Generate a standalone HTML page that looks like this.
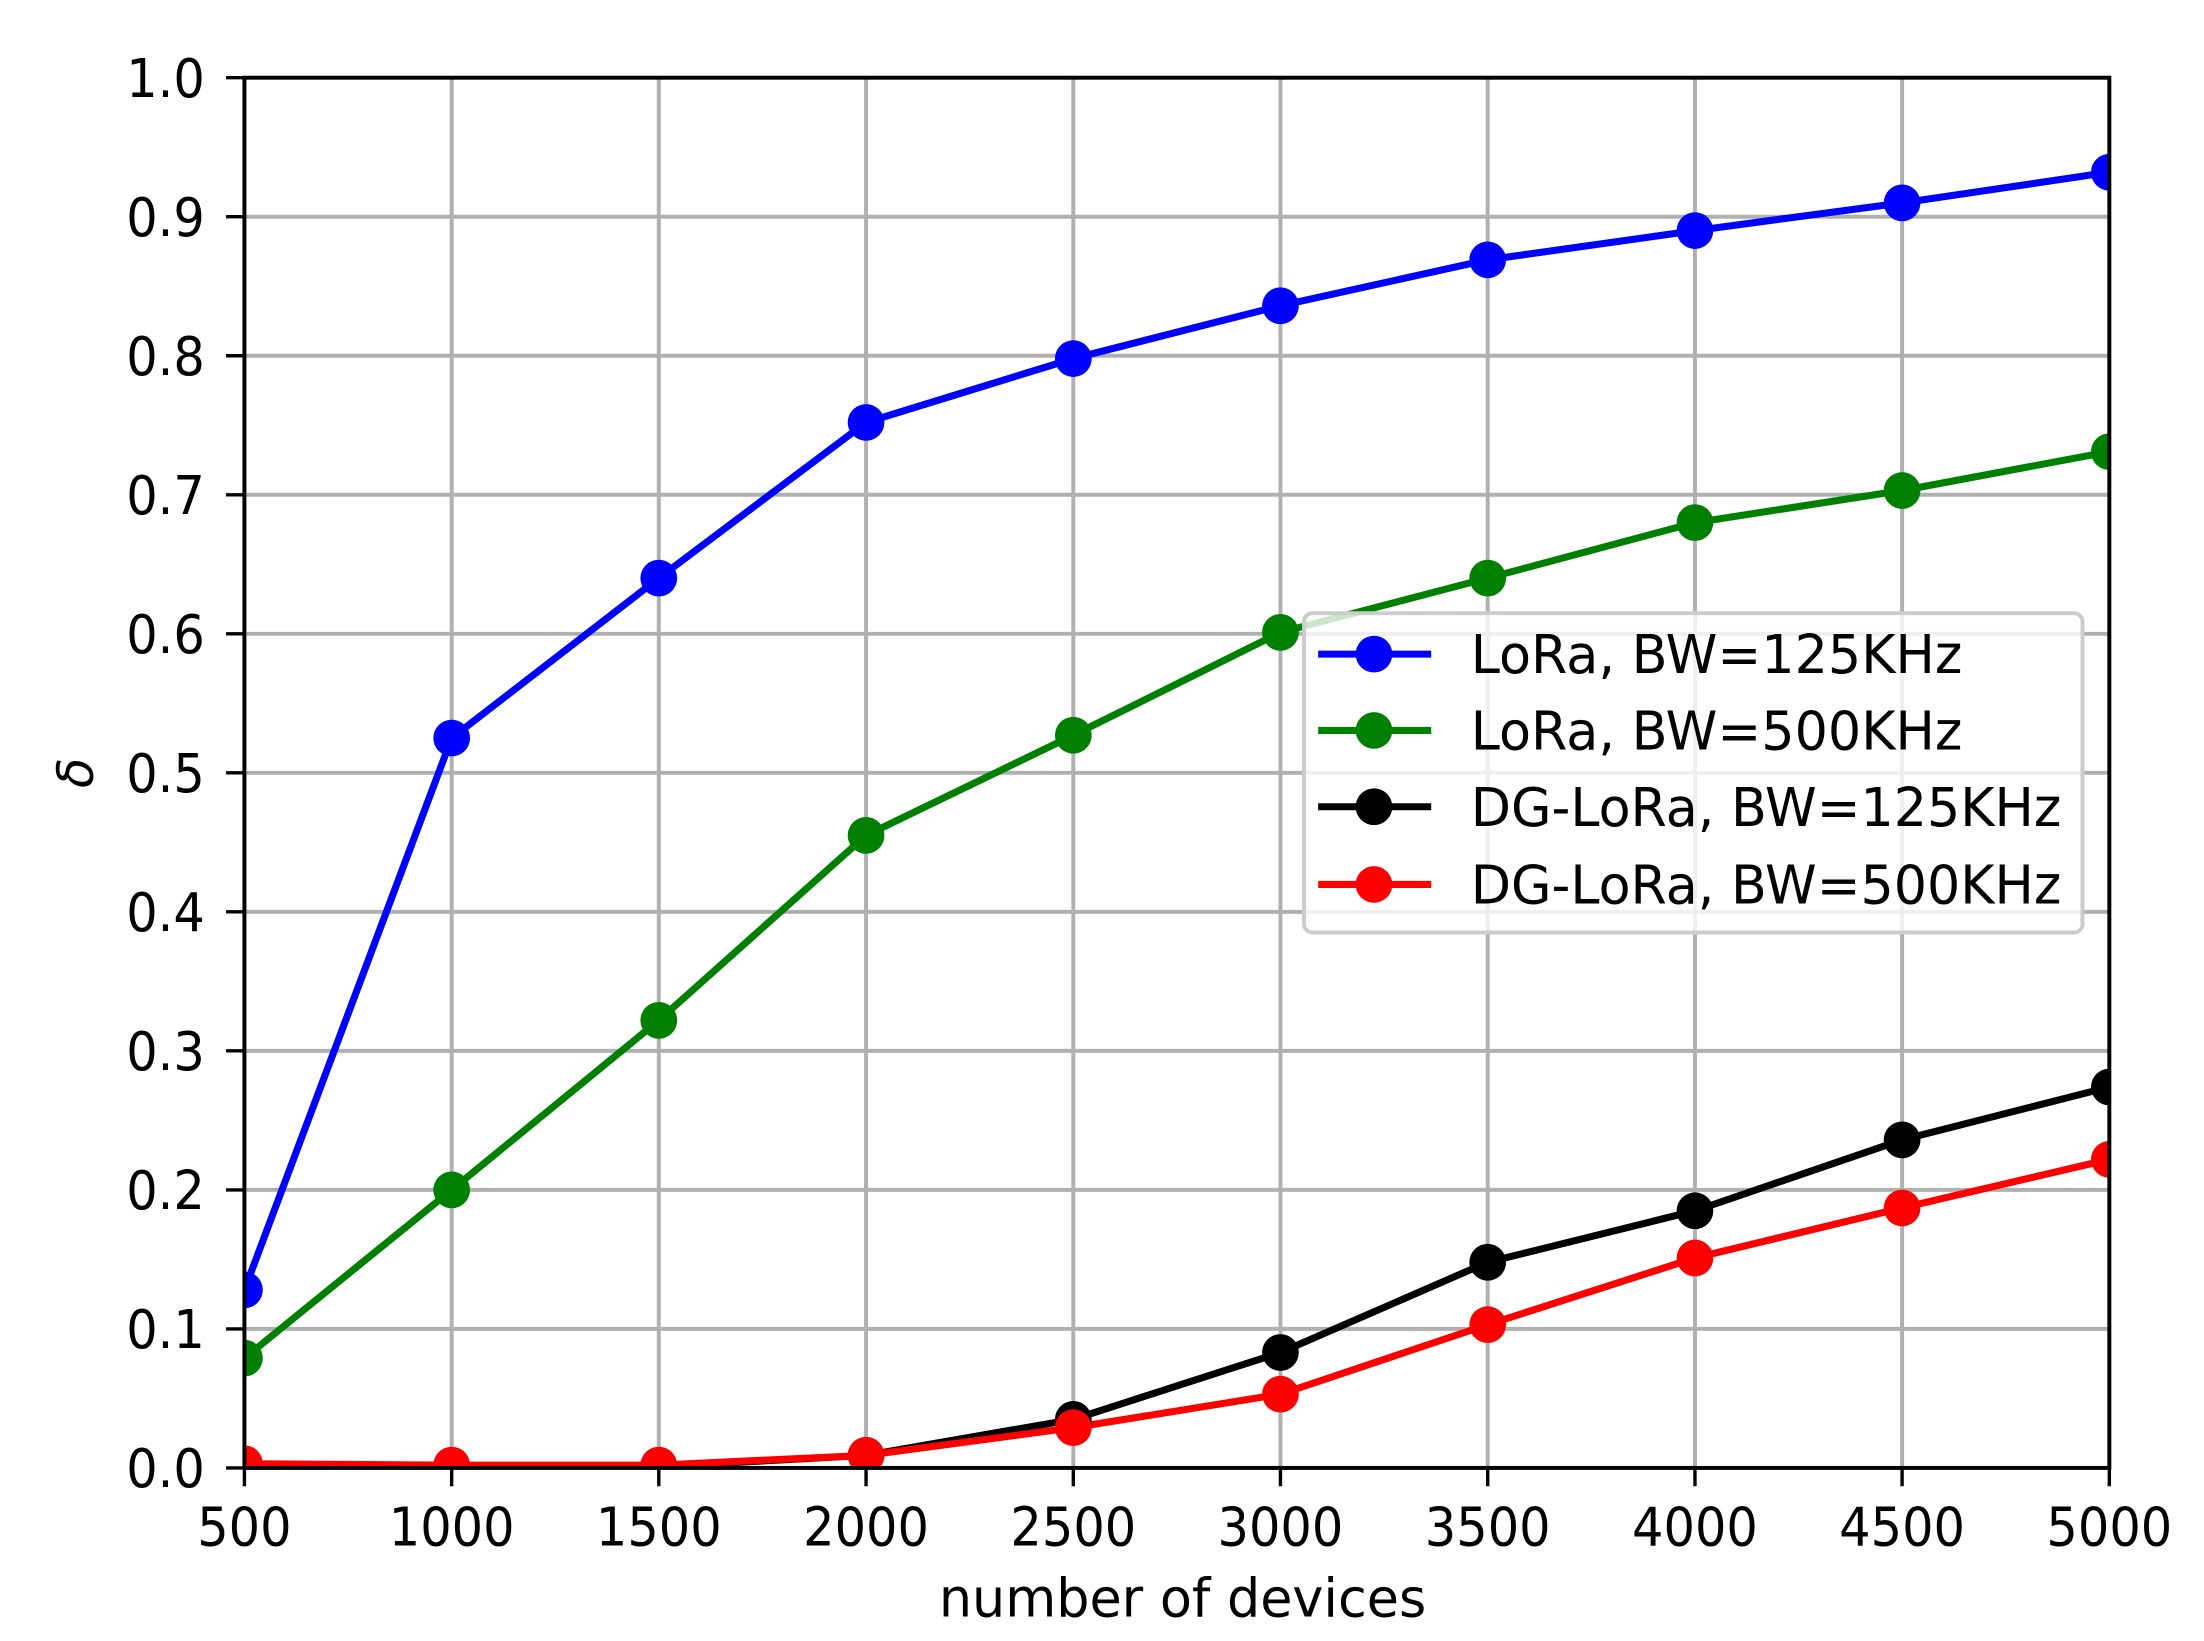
<!DOCTYPE html>
<html><head><meta charset="utf-8"><style>html,body{margin:0;padding:0;background:#fff}svg{display:block}</style></head>
<body>
<svg width="2204" height="1641" viewBox="0 0 1560 1161.5" preserveAspectRatio="none" xmlns="http://www.w3.org/2000/svg" font-family="DejaVu Sans, Liberation Sans, sans-serif">
<defs><clipPath id="c"><rect x="173" y="55" width="1320" height="984"/></clipPath></defs>
<rect width="1560" height="1162" fill="#fff"/>
<g stroke="#b0b0b0" stroke-width="2.8">
<path d="M319.7 55V1039M466.3 55V1039M613 55V1039M759.7 55V1039M906.3 55V1039M1053 55V1039M1199.7 55V1039M1346.3 55V1039"/>
<path d="M173 940.6H1493M173 842.2H1493M173 743.8H1493M173 645.4H1493M173 547H1493M173 448.6H1493M173 350.2H1493M173 251.8H1493M173 153.4H1493"/>
</g>
<g clip-path="url(#c)" fill="none" stroke-width="5" stroke-linejoin="round">
<polyline stroke="#0000ff" points="173,913 319.7,522.4 466.3,409.2 613,299 759.7,253.8 906.3,216.4 1053,183.9 1199.7,163.2 1346.3,143.6 1493,121.9"/>
<polyline stroke="#008000" points="173,961.3 319.7,842.2 466.3,722.2 613,591.3 759.7,520.4 906.3,447.6 1053,409.2 1199.7,369.9 1346.3,347.2 1493,319.7"/>
<polyline stroke="#000" points="173,1037 319.7,1038 466.3,1038 613,1030.1 759.7,1004.6 906.3,957.3 1053,893.4 1199.7,857 1346.3,806.8 1493,769.4"/>
<polyline stroke="#ff0000" points="173,1036 319.7,1037 466.3,1037 613,1030.1 759.7,1010.5 906.3,986.8 1053,937.6 1199.7,890.4 1346.3,855 1493,820.6"/>
</g>
<g clip-path="url(#c)">
<g fill="#0000ff"><circle cx="173" cy="913" r="13"/><circle cx="319.7" cy="522.4" r="13"/><circle cx="466.3" cy="409.2" r="13"/><circle cx="613" cy="299" r="13"/><circle cx="759.7" cy="253.8" r="13"/><circle cx="906.3" cy="216.4" r="13"/><circle cx="1053" cy="183.9" r="13"/><circle cx="1199.7" cy="163.2" r="13"/><circle cx="1346.3" cy="143.6" r="13"/><circle cx="1493" cy="121.9" r="13"/></g>
<g fill="#008000"><circle cx="173" cy="961.3" r="13"/><circle cx="319.7" cy="842.2" r="13"/><circle cx="466.3" cy="722.2" r="13"/><circle cx="613" cy="591.3" r="13"/><circle cx="759.7" cy="520.4" r="13"/><circle cx="906.3" cy="447.6" r="13"/><circle cx="1053" cy="409.2" r="13"/><circle cx="1199.7" cy="369.9" r="13"/><circle cx="1346.3" cy="347.2" r="13"/><circle cx="1493" cy="319.7" r="13"/></g>
<g fill="#000"><circle cx="173" cy="1037" r="13"/><circle cx="319.7" cy="1038" r="13"/><circle cx="466.3" cy="1038" r="13"/><circle cx="613" cy="1030.1" r="13"/><circle cx="759.7" cy="1004.6" r="13"/><circle cx="906.3" cy="957.3" r="13"/><circle cx="1053" cy="893.4" r="13"/><circle cx="1199.7" cy="857" r="13"/><circle cx="1346.3" cy="806.8" r="13"/><circle cx="1493" cy="769.4" r="13"/></g>
<g fill="#ff0000"><circle cx="173" cy="1036" r="13"/><circle cx="319.7" cy="1037" r="13"/><circle cx="466.3" cy="1037" r="13"/><circle cx="613" cy="1030.1" r="13"/><circle cx="759.7" cy="1010.5" r="13"/><circle cx="906.3" cy="986.8" r="13"/><circle cx="1053" cy="937.6" r="13"/><circle cx="1199.7" cy="890.4" r="13"/><circle cx="1346.3" cy="855" r="13"/><circle cx="1493" cy="820.6" r="13"/></g>
</g>
<rect x="173" y="55" width="1320" height="984" fill="none" stroke="#000" stroke-width="2.8"/>
<g stroke="#000" stroke-width="2.4">
<path d="M173 1039v13M319.7 1039v13M466.3 1039v13M613 1039v13M759.7 1039v13M906.3 1039v13M1053 1039v13M1199.7 1039v13M1346.3 1039v13M1493 1039v13"/>
<path d="M173 1039h-13M173 940.6h-13M173 842.2h-13M173 743.8h-13M173 645.4h-13M173 547h-13M173 448.6h-13M173 350.2h-13M173 251.8h-13M173 153.4h-13M173 55h-13"/>
</g>
<g font-size="35" fill="#000" text-anchor="middle">
<text transform="translate(173 1094) scale(1 1.09)">500</text>
<text transform="translate(319.7 1094) scale(1 1.09)">1000</text>
<text transform="translate(466.3 1094) scale(1 1.09)">1500</text>
<text transform="translate(613 1094) scale(1 1.09)">2000</text>
<text transform="translate(759.7 1094) scale(1 1.09)">2500</text>
<text transform="translate(906.3 1094) scale(1 1.09)">3000</text>
<text transform="translate(1053 1094) scale(1 1.09)">3500</text>
<text transform="translate(1199.7 1094) scale(1 1.09)">4000</text>
<text transform="translate(1346.3 1094) scale(1 1.09)">4500</text>
<text transform="translate(1493 1094) scale(1 1.09)">5000</text>
<text transform="translate(837 1144) scale(1 1.09)" textLength="345" lengthAdjust="spacingAndGlyphs">number of devices</text>
</g>
<g font-size="35" fill="#000" text-anchor="end">
<text transform="translate(145 1052.5) scale(1 1.09)">0.0</text>
<text transform="translate(145 954.1) scale(1 1.09)">0.1</text>
<text transform="translate(145 855.7) scale(1 1.09)">0.2</text>
<text transform="translate(145 757.3) scale(1 1.09)">0.3</text>
<text transform="translate(145 658.9) scale(1 1.09)">0.4</text>
<text transform="translate(145 560.5) scale(1 1.09)">0.5</text>
<text transform="translate(145 462.1) scale(1 1.09)">0.6</text>
<text transform="translate(145 363.7) scale(1 1.09)">0.7</text>
<text transform="translate(145 265.3) scale(1 1.09)">0.8</text>
<text transform="translate(145 166.9) scale(1 1.09)">0.9</text>
<text transform="translate(145 68.5) scale(1 1.09)">1.0</text>
</g>
<text transform="translate(66,547) rotate(-90)" font-size="35" font-style="italic" text-anchor="middle">δ</text>
<rect x="923" y="434" width="551" height="226" rx="6" fill="#fff" fill-opacity="0.8" stroke="#cccccc" stroke-width="2.8"/>
<g stroke-width="5">
<line x1="933" y1="463" x2="1013" y2="463" stroke="#0000ff"/><circle cx="972.5" cy="463" r="13" fill="#0000ff"/>
<line x1="933" y1="517" x2="1013" y2="517" stroke="#008000"/><circle cx="972.5" cy="517" r="13" fill="#008000"/>
<line x1="933" y1="571" x2="1013" y2="571" stroke="#000"/><circle cx="972.5" cy="571" r="13" fill="#000"/>
<line x1="933" y1="626" x2="1013" y2="626" stroke="#ff0000"/><circle cx="972.5" cy="626" r="13" fill="#ff0000"/>
</g>
<g font-size="35" fill="#000">
<text transform="translate(1041 476.5) scale(1 1.09)" textLength="348" lengthAdjust="spacingAndGlyphs">LoRa, BW=125KHz</text>
<text transform="translate(1041 530.5) scale(1 1.09)" textLength="348" lengthAdjust="spacingAndGlyphs">LoRa, BW=500KHz</text>
<text transform="translate(1041 584.5) scale(1 1.09)" textLength="418" lengthAdjust="spacingAndGlyphs">DG-LoRa, BW=125KHz</text>
<text transform="translate(1041 639.5) scale(1 1.09)" textLength="418" lengthAdjust="spacingAndGlyphs">DG-LoRa, BW=500KHz</text>
</g>
</svg>
</body></html>
